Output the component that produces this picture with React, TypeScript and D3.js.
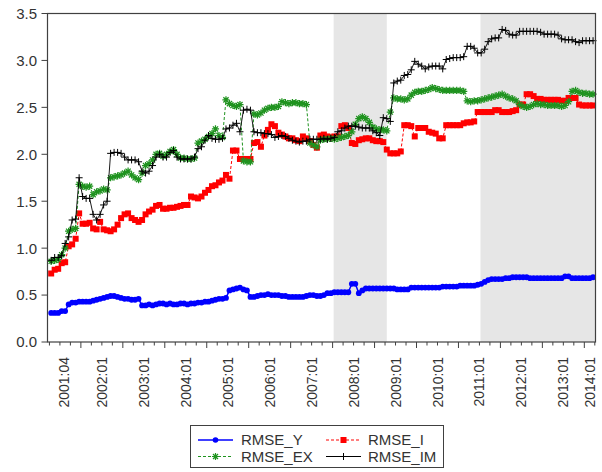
import React from 'react';
import * as d3 from 'd3';

// Monthly observations, first one is 2001:04 (month index 3 counted from 2001:01 = 0)
const FIRST_YEAR = 2001;
const FIRST_MONTH_INDEX = 3;

const rmseY = [
  0.31, 0.31, 0.31, 0.33, 0.33, 0.40, 0.42, 0.42, 0.43, 0.43,
  0.43, 0.43, 0.44, 0.45, 0.46, 0.47, 0.48, 0.49, 0.49, 0.48,
  0.47, 0.46, 0.46, 0.45, 0.45, 0.46, 0.39, 0.39, 0.40, 0.39,
  0.40, 0.41, 0.41, 0.40, 0.41, 0.40, 0.40, 0.41, 0.41, 0.40,
  0.41, 0.41, 0.42, 0.42, 0.43, 0.43, 0.44, 0.45, 0.46, 0.46,
  0.47, 0.55, 0.56, 0.57, 0.58, 0.56, 0.55, 0.48, 0.48, 0.49,
  0.50, 0.50, 0.51, 0.50, 0.50, 0.50, 0.49, 0.49, 0.48, 0.48,
  0.48, 0.48, 0.48, 0.49, 0.50, 0.50, 0.49, 0.49, 0.50, 0.52,
  0.52, 0.53, 0.53, 0.53, 0.53, 0.53, 0.62, 0.62, 0.52, 0.55,
  0.57, 0.57, 0.57, 0.57, 0.57, 0.57, 0.57, 0.57, 0.57, 0.56,
  0.56, 0.56, 0.56, 0.58, 0.58, 0.58, 0.58, 0.58, 0.58, 0.58,
  0.58, 0.58, 0.59, 0.59, 0.59, 0.59, 0.59, 0.60, 0.60, 0.60,
  0.60, 0.60, 0.61, 0.62, 0.64, 0.66, 0.67, 0.67, 0.67, 0.67,
  0.68, 0.68, 0.69, 0.69, 0.69, 0.69, 0.69, 0.68, 0.68, 0.68,
  0.68, 0.68, 0.68, 0.68, 0.68, 0.68, 0.68, 0.70, 0.70, 0.68,
  0.68, 0.68, 0.68, 0.68, 0.68, 0.69,
];

const rmseI = [
  0.73, 0.77, 0.78, 0.84, 0.85, 1.02, 1.04, 1.10, 1.37, 1.26,
  1.26, 1.27, 1.21, 1.20, 1.28, 1.20, 1.19, 1.18, 1.20, 1.25,
  1.32, 1.36, 1.37, 1.32, 1.30, 1.28, 1.30, 1.36, 1.39, 1.41,
  1.45, 1.46, 1.42, 1.42, 1.43, 1.43, 1.44, 1.45, 1.46, 1.46,
  1.55, 1.54, 1.53, 1.55, 1.59, 1.62, 1.66, 1.67, 1.70, 1.72,
  1.78, 1.74, 2.04, 2.04, 1.95, 1.95, 1.95, 1.95, 2.12, 2.13,
  2.08, 2.20, 2.26, 2.32, 2.30, 2.23, 2.21, 2.19, 2.17, 2.17,
  2.15, 2.14, 2.19, 2.17, 2.14, 2.10, 2.07, 2.20, 2.21, 2.19,
  2.18, 2.19, 2.19, 2.30, 2.31, 2.28, 2.12, 2.11, 2.15, 2.16,
  2.17, 2.17, 2.15, 2.14, 2.14, 2.13, 2.05, 2.01, 2.01, 2.01,
  2.03, 2.31, 2.31, 2.30, 2.19, 2.28, 2.28, 2.28, 2.24, 2.23,
  2.22, 2.17, 2.17, 2.31, 2.31, 2.31, 2.31, 2.31, 2.33, 2.34,
  2.34, 2.35, 2.45, 2.45, 2.45, 2.45, 2.45, 2.47, 2.47, 2.45,
  2.45, 2.45, 2.46, 2.47, 2.53, 2.53, 2.64, 2.64, 2.62, 2.59,
  2.59, 2.58, 2.58, 2.58, 2.58, 2.58, 2.57, 2.57, 2.60, 2.60,
  2.60, 2.53, 2.52, 2.52, 2.52, 2.52,
];

const rmseEX = [
  0.86, 0.87, 0.88, 0.93, 1.00, 1.18, 1.20, 1.21, 1.68, 1.66,
  1.65, 1.66, 1.57, 1.60, 1.61, 1.63, 1.62, 1.75, 1.76, 1.77,
  1.78, 1.80, 1.82, 1.78, 1.75, 1.73, 1.80, 1.88, 1.90, 1.94,
  2.00, 2.01, 1.98, 2.00, 2.03, 2.05, 2.00, 1.96, 1.96, 1.95,
  1.95, 1.96, 2.12, 2.14, 2.16, 2.19, 2.22, 2.27, 2.20, 2.18,
  2.58, 2.54, 2.52, 2.51, 2.53, 1.93, 1.92, 1.92, 2.43, 2.42,
  2.44, 2.47, 2.49, 2.50, 2.50, 2.51, 2.56, 2.55, 2.54, 2.55,
  2.55, 2.54, 2.54, 2.53, 2.12, 2.10, 2.08, 2.15, 2.16, 2.16,
  2.17, 2.16, 2.17, 2.18, 2.19, 2.20, 2.24, 2.32, 2.38, 2.40,
  2.38, 2.34, 2.29, 2.27, 2.26, 2.26, 2.25, 2.45, 2.60, 2.59,
  2.59, 2.58, 2.59, 2.63, 2.66, 2.67, 2.67, 2.68, 2.69, 2.71,
  2.70, 2.69, 2.68, 2.68, 2.68, 2.68, 2.68, 2.68, 2.67, 2.57,
  2.56, 2.57, 2.57, 2.58, 2.59, 2.60, 2.61, 2.62, 2.63, 2.64,
  2.62, 2.60, 2.59, 2.57, 2.53, 2.51, 2.50, 2.51, 2.53, 2.54,
  2.53, 2.53, 2.52, 2.52, 2.52, 2.52, 2.51, 2.52, 2.56, 2.67,
  2.68, 2.66, 2.65, 2.65, 2.64, 2.64,
];

const rmseIM = [
  0.87, 0.90, 0.90, 0.92, 1.05, 1.12, 1.30, 1.31, 1.75, 1.55,
  1.53, 1.53, 1.36, 1.30, 1.36, 1.46, 1.50, 2.01, 2.02, 2.02,
  2.01, 1.97, 1.94, 1.94, 1.94, 1.92, 1.82, 1.80, 1.82, 1.88,
  1.97, 2.00, 1.97, 1.97, 2.02, 2.04, 1.97, 1.95, 1.95, 1.95,
  1.95, 1.97, 2.06, 2.08, 2.15, 2.20, 2.17, 2.16, 2.16, 2.17,
  2.27, 2.28, 2.31, 2.33, 2.24, 2.47, 2.48, 2.47, 2.24, 2.23,
  2.23, 2.22, 2.22, 2.21, 2.18, 2.19, 2.20, 2.19, 2.17, 2.15,
  2.14, 2.13, 2.14, 2.14, 2.16, 2.16, 2.16, 2.16, 2.17, 2.16,
  2.17, 2.18, 2.24, 2.25, 2.28, 2.30, 2.30, 2.30, 2.29, 2.28,
  2.28, 2.28, 2.25, 2.23, 2.20, 2.39, 2.38, 2.35, 2.76, 2.78,
  2.79, 2.84, 2.85, 2.90, 2.99, 2.96, 2.94, 2.91, 2.93, 2.94,
  2.94, 2.94, 2.91, 3.01, 3.02, 3.03, 3.03, 3.03, 3.04, 3.15,
  3.15, 3.13, 3.08, 3.08, 3.12, 3.20, 3.23, 3.24, 3.24, 3.33,
  3.32, 3.28, 3.27, 3.27, 3.31, 3.31, 3.31, 3.31, 3.31, 3.31,
  3.30, 3.28, 3.28, 3.28, 3.28, 3.27, 3.23, 3.22, 3.22, 3.22,
  3.20, 3.19, 3.21, 3.21, 3.21, 3.21,
];

const yTicks = [0, 0.5, 1.0, 1.5, 2.0, 2.5, 3.0, 3.5];
const xLabels = [
  '2001:04', '2002:01', '2003:01', '2004:01', '2005:01', '2006:01', '2007:01',
  '2008:01', '2009:01', '2010:01', '2011:01', '2012:01', '2013:01', '2014:01',
];
// shaded periods (observation labels); null end = to the end of the sample
const shadeStarts = ['2008:01', '2011:07'];
const shadeEnds = ['2009:04', null];

const seriesNames = ['RMSE_Y', 'RMSE_I', 'RMSE_EX', 'RMSE_IM'];

const W = 602;
const H = 472;
const plotL = 47.5;
const plotR = 595.5;
const plotT = 13.5;
const plotB = 342;

const FONT = '"Liberation Sans", Arial, Helvetica, sans-serif';
const AXIS = '#404040';
const TEXT = '#333333';
const BLUE = '#0000ff';
const RED = '#ff0000';
const GREEN = '#1f931f';
const BLACK = '#000000';

function monthIndex(label: string) {
  const [y, m] = label.split(':').map(Number);
  return (y - FIRST_YEAR) * 12 + (m - 1);
}

export default function App() {
  // x domain in month index units (2001:01 = 0); observation i sits at slot centre
  const x = d3.scaleLinear().domain([2.45, 159.2]).range([plotL, plotR]);
  const y = d3.scaleLinear().domain([0, 3.5]).range([plotB, plotT]);
  const obsX = (i: number) => x(FIRST_MONTH_INDEX + i + 0.5);

  const lineGen = (vals: number[]) =>
    d3
      .line<number>()
      .x((_, i) => obsX(i))
      .y((v) => y(v))(vals) || '';

  const [d0, d1] = x.domain();
  const quarterTicks = d3.range(Math.ceil(d0 / 3) * 3, d1, 3);

  const shades = shadeStarts.map((s, k) => {
    const e = shadeEnds[k];
    const x0 = x(monthIndex(s) + 0.3);
    const x1 = e ? x(monthIndex(e) + 0.5) : plotR;
    return { x0, x1 };
  });

  const labelPos = xLabels.map((lab) => {
    const yr = parseInt(lab, 10);
    const a = Math.max((yr - FIRST_YEAR) * 12, d0);
    const b = Math.min((yr - FIRST_YEAR + 1) * 12, d1);
    return { lab, cx: x((a + b) / 2) };
  });

  const asterisk = (cx: number, cy: number, r: number) => {
    const k = r * 0.72;
    return `M${cx - r},${cy}H${cx + r}M${cx},${cy - r}V${cy + r}M${cx - k},${cy - k}L${cx + k},${cy + k}M${cx - k},${cy + k}L${cx + k},${cy - k}`;
  };
  const plus = (cx: number, cy: number, r: number) =>
    `M${cx - r},${cy}H${cx + r}M${cx},${cy - r}V${cy + r}`;

  const legendX = 190.5;
  const legendY = 425.5;
  const legendW = 253;
  const legendH = 42;
  const rows = [440, 456.5];
  const cols = [{ l0: 198, l1: 233, t: 241 }, { l0: 326, l1: 361, t: 368 }];

  const legendItem = (idx: number) => {
    const col = cols[idx % 2];
    const cy = rows[Math.floor(idx / 2)];
    const mx = (col.l0 + col.l1) / 2;
    let line: React.ReactNode;
    let marker: React.ReactNode;
    if (idx === 0) {
      line = <line x1={col.l0} x2={col.l1} y1={cy} y2={cy} stroke={BLUE} strokeWidth={1.5} />;
      marker = <circle cx={mx} cy={cy} r={2.8} fill={BLUE} />;
    } else if (idx === 1) {
      line = <line x1={col.l0} x2={col.l1} y1={cy} y2={cy} stroke={RED} strokeWidth={1.2} strokeDasharray="3,2" />;
      marker = <rect x={mx - 3} y={cy - 3} width={6} height={6} fill={RED} />;
    } else if (idx === 2) {
      line = <line x1={col.l0} x2={col.l1} y1={cy} y2={cy} stroke={GREEN} strokeWidth={1.2} strokeDasharray="3,2" />;
      marker = <path d={asterisk(mx, cy, 3.5)} stroke={GREEN} strokeWidth={1.2} fill="none" />;
    } else {
      line = <line x1={col.l0} x2={col.l1} y1={cy} y2={cy} stroke={BLACK} strokeWidth={1} />;
      marker = <path d={plus(mx, cy, 3.5)} stroke={BLACK} strokeWidth={1} fill="none" />;
    }
    return (
      <g key={idx}>
        {line}
        {marker}
        <text x={col.t} y={cy} dy="0.36em" fontSize={15} fill={TEXT} fontFamily={FONT}>
          {seriesNames[idx]}
        </text>
      </g>
    );
  };

  return (
    <svg
      width={W}
      height={H}
      style={{ position: 'absolute', left: 0, top: 0, background: '#fff' }}
      fontFamily={FONT}
    >
      <rect x={0} y={0} width={W} height={H} fill="#fff" />
      {/* shaded periods */}
      {shades.map((s, k) => (
        <rect key={k} x={s.x0} y={plotT} width={s.x1 - s.x0} height={plotB - plotT} fill="#e6e6e6" />
      ))}

      {/* RMSE_Y */}
      <path d={lineGen(rmseY)} fill="none" stroke={BLUE} strokeWidth={1.5} />
      {rmseY.map((v, i) => (
        <circle key={`y${i}`} cx={obsX(i)} cy={y(v)} r={2.9} fill={BLUE} />
      ))}

      {/* RMSE_I */}
      <path d={lineGen(rmseI)} fill="none" stroke={RED} strokeWidth={1} strokeDasharray="3,2" />
      {rmseI.map((v, i) => (
        <rect key={`i${i}`} x={obsX(i) - 3} y={y(v) - 3} width={6} height={6} fill={RED} />
      ))}

      {/* RMSE_EX */}
      <path d={lineGen(rmseEX)} fill="none" stroke={GREEN} strokeWidth={1} strokeDasharray="3,2" />
      <path
        d={rmseEX.map((v, i) => asterisk(obsX(i), y(v), 3.6)).join('')}
        fill="none"
        stroke={GREEN}
        strokeWidth={1.25}
      />

      {/* RMSE_IM */}
      <path d={lineGen(rmseIM)} fill="none" stroke={BLACK} strokeWidth={0.9} />
      <path
        d={rmseIM.map((v, i) => plus(obsX(i), y(v), 3.5)).join('')}
        fill="none"
        stroke={BLACK}
        strokeWidth={1}
      />

      {/* frame */}
      <rect x={plotL} y={plotT} width={plotR - plotL} height={plotB - plotT} fill="none" stroke={AXIS} strokeWidth={1.2} />

      {/* y axis ticks */}
      {yTicks.map((t) => (
        <g key={`yt${t}`}>
          <line x1={plotL - 6} x2={plotL} y1={y(t)} y2={y(t)} stroke={AXIS} strokeWidth={1} />
          <text x={37} y={y(t)} dy="0.36em" textAnchor="end" fontSize={15} fill={TEXT}>
            {t.toFixed(1)}
          </text>
        </g>
      ))}

      {/* x axis ticks */}
      {quarterTicks.map((m) => (
        <line
          key={`xt${m}`}
          x1={x(m)}
          x2={x(m)}
          y1={plotB}
          y2={plotB + (m % 12 === 0 ? 6 : 3.5)}
          stroke={AXIS}
          strokeWidth={1}
        />
      ))}
      {labelPos.map(({ lab, cx }) => (
        <text
          key={lab}
          transform={`translate(${cx},357) rotate(-90)`}
          textAnchor="end"
          dy="0.36em"
          fontSize={14}
          fill={TEXT}
        >
          {lab}
        </text>
      ))}

      {/* legend */}
      <rect x={legendX} y={legendY} width={legendW} height={legendH} fill="#fff" stroke={AXIS} strokeWidth={1} />
      {[0, 1, 2, 3].map((k) => legendItem(k))}
    </svg>
  );
}
